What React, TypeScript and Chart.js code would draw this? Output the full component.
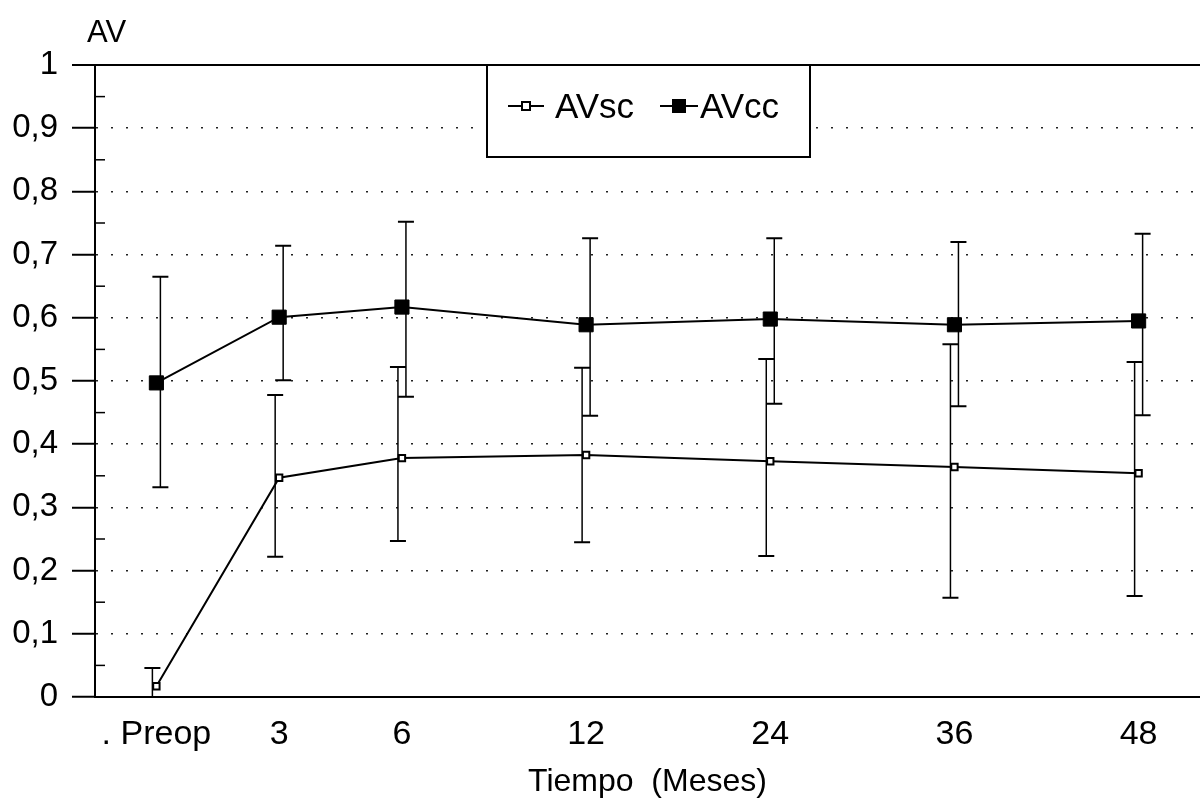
import { useEffect, useRef } from 'react';
import { Chart, registerables } from 'chart.js';

Chart.register(...registerables);

// Follow-up visits and their place on the time axis (early visits are closer together)
const categories = ['. Preop', '3', '6', '12', '24', '36', '48'];
const timeSlots = [0, 1, 2, 3.5, 5, 6.5, 8];

// AV without correction: mean, upper and lower bounds
const avsc = [0.017, 0.347, 0.378, 0.383, 0.373, 0.364, 0.354];
const avscHigh = [0.046, 0.478, 0.522, 0.521, 0.535, 0.558, 0.53];
const avscLow = [-0.012, 0.222, 0.247, 0.245, 0.223, 0.157, 0.16];

// AV with correction: mean, upper and lower bounds
const avcc = [0.497, 0.601, 0.617, 0.589, 0.598, 0.589, 0.595];
const avccHigh = [0.665, 0.714, 0.752, 0.726, 0.726, 0.72, 0.733];
const avccLow = [0.332, 0.501, 0.475, 0.445, 0.464, 0.46, 0.446];

const seriesNames = ['AVsc', 'AVcc'];
const yTitle = 'AV';
const xTitle = 'Tiempo  (Meses)';

const FONT = '"Liberation Sans", Arial, Helvetica, sans-serif';

const near = (a: number, b: number) => Math.abs(a - b) < 1e-6;
const isTop = (c: any) => !!c.tick && near(c.tick.value, 1);

const errorBars = {
  id: 'errorBars',
  beforeDatasetsDraw(chart: any) {
    const { ctx, chartArea, scales } = chart;
    const x = scales.x;
    const y = scales.y;
    const sets = [
      { low: avscLow, high: avscHigh, shift: -4 },
      { low: avccLow, high: avccHigh, shift: 4 },
    ];
    ctx.save();
    ctx.beginPath();
    ctx.rect(chartArea.left, chartArea.top, chartArea.right - chartArea.left, chartArea.bottom - chartArea.top);
    ctx.clip();
    ctx.strokeStyle = '#000';
    sets.forEach((s) => {
      timeSlots.forEach((t, i) => {
        const px = x.getPixelForValue(t) + s.shift;
        const top = y.getPixelForValue(s.high[i]);
        const bot = y.getPixelForValue(s.low[i]);
        ctx.lineWidth = 1.5;
        ctx.beginPath();
        ctx.moveTo(px, top);
        ctx.lineTo(px, bot);
        ctx.stroke();
        ctx.lineWidth = 2;
        ctx.beginPath();
        ctx.moveTo(px - 8, top);
        ctx.lineTo(px + 8, top);
        ctx.moveTo(px - 8, bot);
        ctx.lineTo(px + 8, bot);
        ctx.stroke();
      });
    });
    ctx.restore();
  },
};

const decorations = {
  id: 'decorations',
  afterDraw(chart: any) {
    const { ctx, chartArea, scales } = chart;
    const y = scales.y;
    ctx.save();

    // minor ticks on the inner side of the vertical axis
    ctx.strokeStyle = '#000';
    ctx.lineWidth = 1.5;
    const majors = y.ticks.map((t: any) => t.value);
    for (let i = 0; i < majors.length - 1; i++) {
      const py = y.getPixelForValue((majors[i] + majors[i + 1]) / 2);
      ctx.beginPath();
      ctx.moveTo(chartArea.left, py);
      ctx.lineTo(chartArea.left + 10, py);
      ctx.stroke();
    }

    // axis title above the vertical axis
    ctx.fillStyle = '#000';
    ctx.font = `31px ${FONT}`;
    ctx.textAlign = 'left';
    ctx.textBaseline = 'alphabetic';
    ctx.fillText(yTitle, 87, 42);

    // legend box
    const bx = 487;
    const by = chartArea.top;
    const bw = 323;
    const bh = 92;
    ctx.fillStyle = '#fff';
    ctx.fillRect(bx, by, bw, bh);
    ctx.strokeStyle = '#000';
    ctx.lineWidth = 2;
    ctx.strokeRect(bx, by, bw, bh);

    const cy = by + 41;
    ctx.lineWidth = 2;
    // hollow square sample
    ctx.beginPath();
    ctx.moveTo(508, cy);
    ctx.lineTo(544, cy);
    ctx.stroke();
    ctx.fillStyle = '#fff';
    ctx.fillRect(522, cy - 4, 8, 8);
    ctx.strokeRect(522, cy - 4, 8, 8);
    // filled square sample
    ctx.beginPath();
    ctx.moveTo(660, cy);
    ctx.lineTo(698, cy);
    ctx.stroke();
    ctx.fillStyle = '#000';
    ctx.fillRect(672, cy - 7, 14, 14);

    ctx.font = `35px ${FONT}`;
    ctx.textBaseline = 'middle';
    ctx.fillText(seriesNames[0], 555, cy + 2);
    ctx.fillText(seriesNames[1], 700, cy + 2);
    ctx.restore();
  },
};

export default function App() {
  const canvasRef = useRef<HTMLCanvasElement | null>(null);

  useEffect(() => {
    if (!canvasRef.current) return;
    const chart = new Chart(canvasRef.current, {
      type: 'line',
      data: {
        datasets: [
          {
            label: seriesNames[0],
            data: timeSlots.map((t, i) => ({ x: t, y: avsc[i] })),
            borderColor: '#000',
            borderWidth: 2,
            pointStyle: 'rect',
            pointRadius: 4.5,
            pointBorderWidth: 2,
            pointBackgroundColor: '#fff',
            pointBorderColor: '#000',
            tension: 0,
          },
          {
            label: seriesNames[1],
            data: timeSlots.map((t, i) => ({ x: t, y: avcc[i] })),
            borderColor: '#000',
            borderWidth: 2,
            pointStyle: 'rect',
            pointRadius: 10,
            pointBorderWidth: 1,
            pointBackgroundColor: '#000',
            pointBorderColor: '#000',
            tension: 0,
          },
        ],
      },
      options: {
        responsive: false,
        animation: false,
        events: [],
        layout: { autoPadding: false, padding: { top: 65, left: 0, right: 0, bottom: 0 } },
        plugins: {
          legend: { display: false },
          tooltip: { enabled: false },
        },
        scales: {
          x: {
            type: 'linear',
            min: -0.5,
            max: 8.5,
            afterBuildTicks: (s: any) => {
              s.ticks = timeSlots.map((v) => ({ value: v }));
            },
            afterFit: (s: any) => {
              s.height = 113;
              s.paddingLeft = 0;
              s.paddingRight = 0;
            },
            grid: { display: false, drawTicks: false },
            border: { display: true, color: '#000', width: 2 },
            ticks: {
              autoSkip: false,
              maxRotation: 0,
              padding: 17,
              color: '#000',
              font: { family: FONT, size: 34 },
              callback: (_v: any, i: number) => categories[i],
            },
            title: {
              display: true,
              text: xTitle,
              color: '#000',
              font: { family: FONT, size: 32 },
              padding: { top: 0, bottom: 9 },
            },
          },
          y: {
            min: 0,
            max: 1,
            afterFit: (s: any) => {
              s.width = 95;
            },
            ticks: {
              stepSize: 0.1,
              padding: 14,
              color: '#000',
              font: { family: FONT, size: 33 },
              callback: (v: any) => String(Math.round(Number(v) * 10) / 10).replace('.', ','),
            },
            grid: {
              color: (c: any) => (c.tick && near(c.tick.value, 0) ? 'rgba(0,0,0,0)' : isTop(c) ? '#000' : '#222'),
              lineWidth: (c: any) => (isTop(c) ? 2 : 1.5),
              tickLength: 23,
              tickColor: '#000',
              tickWidth: 2,
              tickBorderDash: [],
            },
            border: {
              display: true,
              color: '#000',
              width: 2,
              dash: (c: any) => (!c.tick || isTop(c) ? [] : [2, 13]),
            },
          },
        },
      },
      plugins: [errorBars, decorations],
    } as any);
    return () => chart.destroy();
  }, []);

  return (
    <div style={{ position: 'absolute', left: 0, top: 0, width: 1200, height: 810, background: '#fff' }}>
      <canvas ref={canvasRef} width={1200} height={810} style={{ display: 'block' }} />
    </div>
  );
}
